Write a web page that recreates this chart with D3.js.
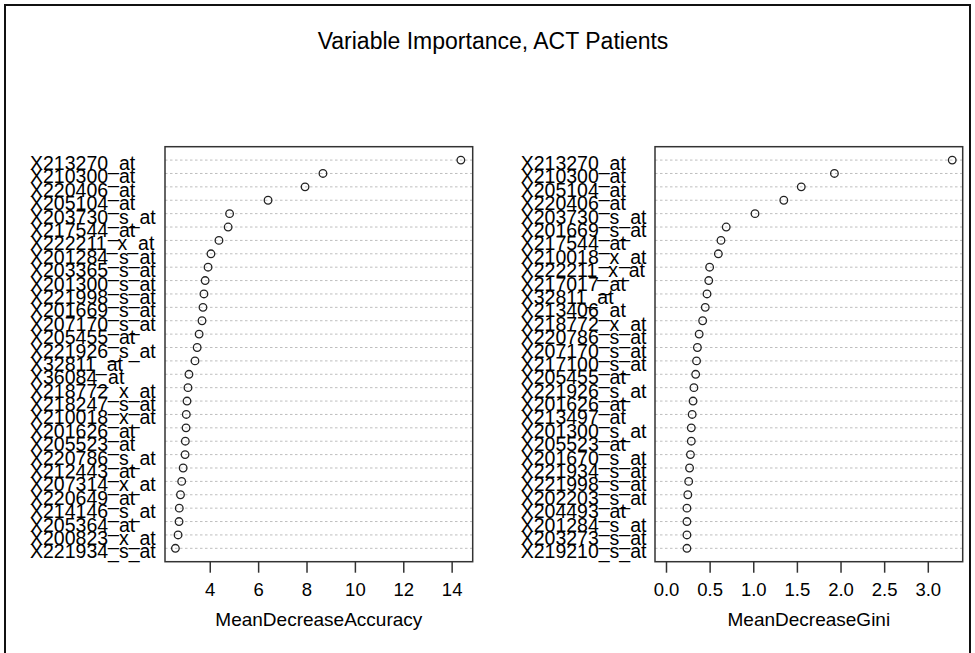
<!DOCTYPE html>
<html><head><meta charset="utf-8">
<script src="https://cdn.jsdelivr.net/npm/d3@7"></script>
<style>body{margin:0;background:#fff}svg{display:block}text{font-family:"Liberation Sans",Arial,sans-serif;fill:#000}</style>
</head><body>
<script>
const title = "Variable Importance, ACT Patients";
const accLabels = ["X213270_at","X210300_at","X220406_at","X205104_at","X203730_s_at","X217544_at","X222211_x_at","X201284_s_at","X203365_s_at","X201300_s_at","X221998_s_at","X201669_s_at","X207170_s_at","X205455_at","X221926_s_at","X32811_at","X36084_at","X218772_x_at","X218247_s_at","X210018_x_at","X201626_at","X205523_at","X220786_s_at","X212443_at","X207314_x_at","X220649_at","X214146_s_at","X205364_at","X200823_x_at","X221934_s_at"];
const accValues = [14.38,8.68,7.94,6.41,4.82,4.76,4.38,4.05,3.93,3.81,3.76,3.72,3.68,3.56,3.48,3.39,3.14,3.10,3.06,3.03,3.02,2.99,2.98,2.90,2.84,2.79,2.74,2.73,2.69,2.58];
const giniLabels = ["X213270_at","X210300_at","X205104_at","X220406_at","X203730_s_at","X201669_s_at","X217544_at","X210018_x_at","X222211_x_at","X217017_at","X32811_at","X213406_at","X218772_x_at","X220786_s_at","X207170_s_at","X217100_s_at","X205455_at","X221926_s_at","X201626_at","X213497_at","X201300_s_at","X205523_at","X201670_s_at","X221934_s_at","X221998_s_at","X202203_s_at","X204493_at","X201284_s_at","X203273_s_at","X219210_s_at"];
const giniValues = [3.28,1.93,1.55,1.35,1.02,0.69,0.63,0.60,0.50,0.49,0.47,0.45,0.42,0.38,0.36,0.35,0.34,0.32,0.31,0.30,0.29,0.29,0.28,0.27,0.26,0.25,0.24,0.24,0.24,0.24];
const accTicks = [4,6,8,10,12,14];
const giniTicks = [0,0.5,1,1.5,2,2.5,3];

const W = 975, H = 653;
const svg = d3.select("body").append("svg").attr("width", W).attr("height", H);
svg.append("rect").attr("x",5).attr("y",5).attr("width",965).attr("height",660)
  .attr("fill","none").attr("stroke","#111").attr("stroke-width",2);
svg.append("text").attr("x",493).attr("y",49).attr("text-anchor","middle")
  .style("font-size","23px").text(title);

const boxTop = 146.7, boxBottom = 561.7;
function panel(labels, values, ticks, domain, x0, x1, labelX, xlab, fmt) {
  const n = values.length;
  const x = d3.scaleLinear().domain(domain).range([x0, x1]);
  const y = d3.scaleLinear().domain([0, n + 1]).range([boxBottom, boxTop]);
  const g = svg.append("g");
  const rows = values.map((v, i) => ({v, lab: labels[i], pos: n - i}));
  g.selectAll("line.grid").data(rows).join("line").attr("class","grid")
    .attr("x1", x0).attr("x2", x1).attr("y1", d => y(d.pos)).attr("y2", d => y(d.pos))
    .attr("stroke","#bebebe").attr("stroke-width",1).attr("stroke-dasharray","2.5,2.5");
  g.selectAll("circle").data(rows).join("circle")
    .attr("cx", d => x(d.v)).attr("cy", d => y(d.pos)).attr("r", 3.8)
    .attr("fill","none").attr("stroke","#222").attr("stroke-width",1.3);
  g.selectAll("text.lab").data(rows).join("text").attr("class","lab")
    .attr("x", labelX).attr("y", d => y(d.pos) + 10)
    .style("font-size","19.5px").text(d => d.lab);
  g.append("rect").attr("x", x0).attr("y", boxTop).attr("width", x1 - x0).attr("height", boxBottom - boxTop)
    .attr("fill","none").attr("stroke","#333").attr("stroke-width",1.5);
  const ax = d3.axisBottom(x).tickValues(ticks).tickSize(11).tickPadding(10).tickFormat(fmt);
  const a = g.append("g").attr("transform", `translate(0,${boxBottom})`).call(ax);
  a.select(".domain").remove();
  a.selectAll(".tick line").attr("stroke","#333").attr("stroke-width",1.5);
  a.selectAll(".tick text").style("font-size","18.5px").attr("fill","#000")
    .style("font-family",'"Liberation Sans",Arial,sans-serif');
  g.append("text").attr("x", (x0 + x1) / 2).attr("y", 626).attr("text-anchor","middle")
    .style("font-size","19px").text(xlab);
}
panel(accLabels, accValues, accTicks, [2.15, 14.87], 165, 472.7, 30, "MeanDecreaseAccuracy", d3.format("d"));
panel(giniLabels, giniValues, giniTicks, [-0.126, 3.40], 655, 962.7, 520.7, "MeanDecreaseGini", d3.format(".1f"));
</script>
</body></html>
